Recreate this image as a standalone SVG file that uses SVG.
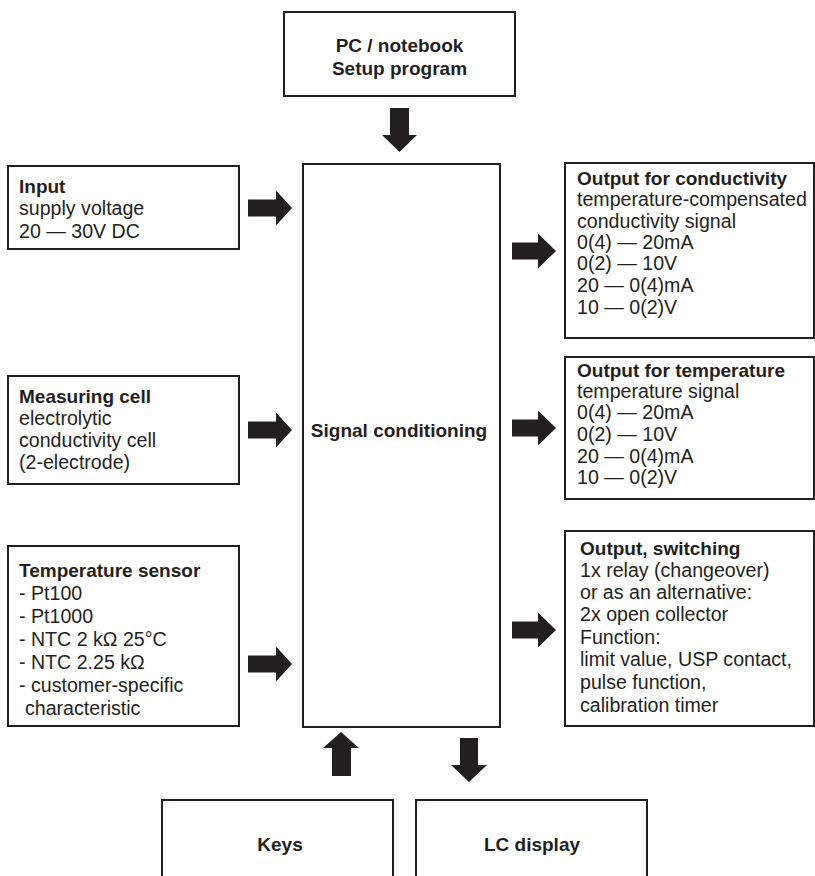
<svg xmlns="http://www.w3.org/2000/svg" width="815" height="876" viewBox="0 0 815 876">
<style>
.box{fill:#fff;stroke:#231f20;stroke-width:2}
.arr{fill:#231f20}
text{font-family:"Liberation Sans",Arial,Helvetica,sans-serif;font-size:19.6px;fill:#231f20}
.b{font-weight:bold;font-size:19px}
.c{text-anchor:middle}
</style>
<rect width="815" height="876" fill="#fff"/>
<g id="pc">
<rect class="box" x="284" y="12" width="231" height="84"/>
<text class="b c" x="399.5" y="52">PC / notebook</text>
<text class="b c" x="399.5" y="75">Setup program</text>
</g>
<g id="signal">
<rect class="box" x="303" y="164" width="197" height="563"/>
<text class="b c" x="399" y="437">Signal conditioning</text>
</g>
<g id="input">
<rect class="box" x="8" y="166" width="231" height="83"/>
<text class="b" x="19" y="193">Input</text>
<text x="19" y="215">supply voltage</text>
<text x="19" y="238">20 — 30V DC</text>
</g>
<g id="measuring">
<rect class="box" x="8" y="376" width="231" height="108"/>
<text class="b" x="19" y="403">Measuring cell</text>
<text x="19" y="425">electrolytic</text>
<text x="19" y="447">conductivity cell</text>
<text x="19" y="469">(2-electrode)</text>
</g>
<g id="tempsensor">
<rect class="box" x="8" y="546" width="231" height="180"/>
<text class="b" x="19" y="577">Temperature sensor</text>
<text x="19" y="600">- Pt100</text>
<text x="19" y="623">- Pt1000</text>
<text x="19" y="646">- NTC 2 kΩ 25°C</text>
<text x="19" y="669">- NTC 2.25 kΩ</text>
<text x="19" y="692">- customer-specific</text>
<text x="25" y="715">characteristic</text>
</g>
<g id="outcond">
<rect class="box" x="565" y="163" width="249" height="175"/>
<text class="b" x="577" y="185">Output for conductivity</text>
<text x="577" y="206">temperature-compensated</text>
<text x="577" y="228">conductivity signal</text>
<text x="577" y="249">0(4) — 20mA</text>
<text x="577" y="270">0(2) — 10V</text>
<text x="577" y="292">20 — 0(4)mA</text>
<text x="577" y="314">10 — 0(2)V</text>
</g>
<g id="outtemp">
<rect class="box" x="565" y="357" width="249" height="142"/>
<text class="b" x="577" y="377">Output for temperature</text>
<text x="577" y="398">temperature signal</text>
<text x="577" y="419">0(4) — 20mA</text>
<text x="577" y="441">0(2) — 10V</text>
<text x="577" y="463">20 — 0(4)mA</text>
<text x="577" y="484">10 — 0(2)V</text>
</g>
<g id="outswitch">
<rect class="box" x="565" y="531" width="249" height="195"/>
<text class="b" x="580" y="555">Output, switching</text>
<text x="580" y="577">1x relay (changeover)</text>
<text x="580" y="599">or as an alternative:</text>
<text x="580" y="621">2x open collector</text>
<text x="580" y="644">Function:</text>
<text x="580" y="666">limit value, USP contact,</text>
<text x="580" y="689">pulse function,</text>
<text x="580" y="712">calibration timer</text>
</g>
<g id="keys">
<rect class="box" x="162" y="800" width="231" height="90"/>
<text class="b c" x="280" y="851">Keys</text>
</g>
<g id="lcd">
<rect class="box" x="416" y="800" width="231" height="90"/>
<text class="b c" x="532" y="851">LC display</text>
</g>
<g id="connectors">
<polygon class="arr" points="390,108 409,108 409,135 417,135 399.5,152 382,135 390,135"/>
<polygon class="arr" points="248,199.5 276,199.5 276,190.5 292,208 276,225.5 276,216.5 248,216.5"/>
<polygon class="arr" points="248,421.5 276,421.5 276,412.5 292,430 276,447.5 276,438.5 248,438.5"/>
<polygon class="arr" points="248,655.5 276,655.5 276,646.5 292,664 276,681.5 276,672.5 248,672.5"/>
<polygon class="arr" points="512,242.5 538,242.5 538,233.5 556,251 538,268.5 538,259.5 512,259.5"/>
<polygon class="arr" points="512,419.5 538,419.5 538,410.5 556,428 538,445.5 538,436.5 512,436.5"/>
<polygon class="arr" points="512,621.5 538,621.5 538,612.5 556,630 538,647.5 538,638.5 512,638.5"/>
<polygon class="arr" points="332,776 351,776 351,748 359,748 341,732 323,748 332,748"/>
<polygon class="arr" points="460,738 478,738 478,765 487,765 469,782 451,765 460,765"/>
</g>
</svg>
